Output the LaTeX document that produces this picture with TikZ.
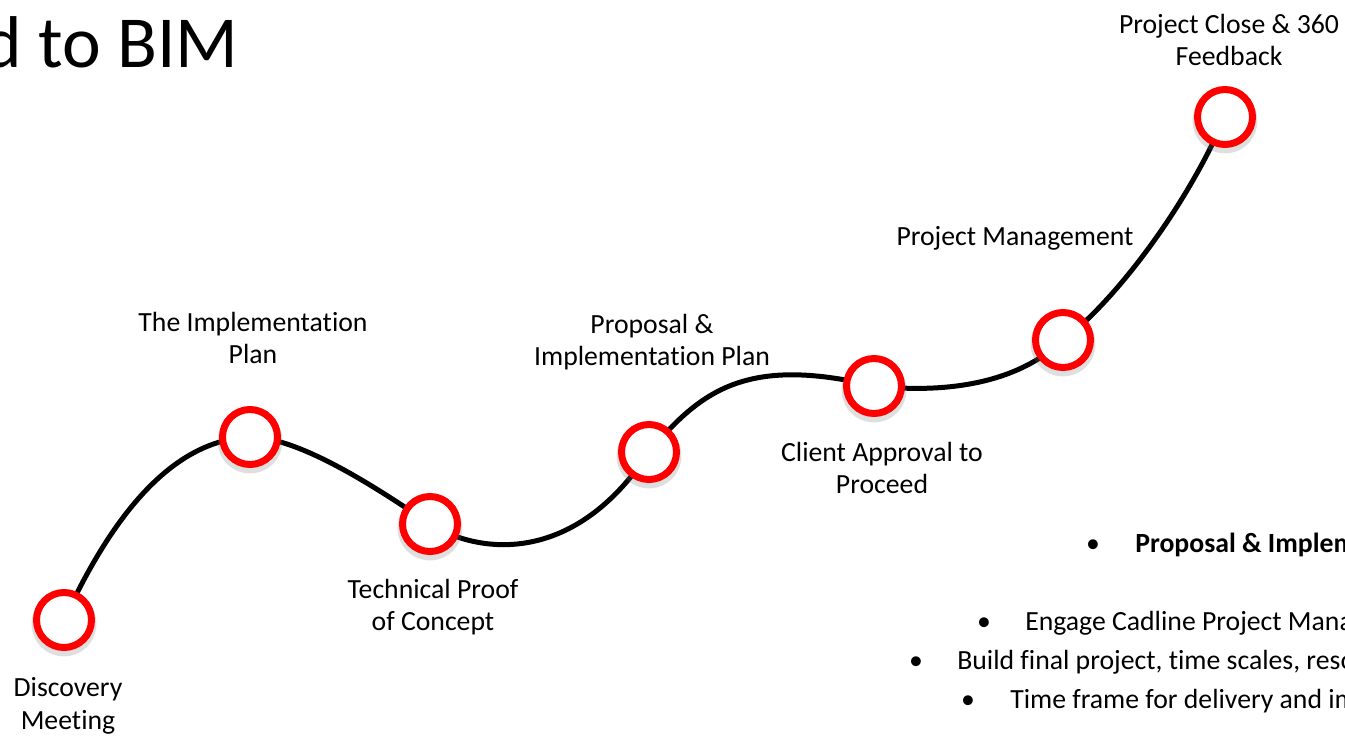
\documentclass[tikz,border=0pt]{standalone}
\usepackage{fontspec}
\setmainfont{Carlito}[Ligatures={NoCommon}]
\usetikzlibrary{shadows}
\begin{document}
\begin{tikzpicture}[x=0.75pt,y=-0.75pt,
  stage/.style={circle,draw=red,fill=white,line width=5.25pt,minimum size=41.25pt,inner sep=0pt,
    drop shadow={opacity=0.25,shadow xshift=0pt,shadow yshift=-2.5pt,shadow scale=1.18}},
  path/.style={draw=black,line width=3.75pt},
  lbl/.style={font=\fontsize{20.8}{24.5}\selectfont,align=center,inner sep=0pt,text=black},
  btxt/.style={font=\fontsize{20.8}{24.5}\selectfont,anchor=base west,inner sep=0pt},
  bdot/.style={font=\fontsize{20.8}{24.5}\selectfont,anchor=base,inner sep=0pt}]
\useasboundingbox (0,0) rectangle (1345,736);
\clip (0,0) rectangle (1345,736);
% title
\node[font=\fontsize{55}{62}\selectfont,anchor=base east,inner sep=0pt] (title) at (239,67) {Road to BIM};
% stage positions
\coordinate (c1) at (64,620);
\coordinate (c2) at (250,437);
\coordinate (c3) at (430,524);
\coordinate (c4) at (649,452);
\coordinate (c5) at (874,386);
\coordinate (c6) at (1063,340);
\coordinate (c7) at (1225,117);
% curve
\draw[path] (c1) .. controls (110,520) and (170,440) .. (c2)
  .. controls (300,437) and (380,490) .. (c3)
  .. controls (480,555) and (575,565) .. (c4)
  .. controls (700,392) and (745,355) .. (c5)
  .. controls (930,392) and (1010,390) .. (c6)
  .. controls (1105,310) and (1180,220) .. (c7);
% circles
\node[stage] (s1) at (c1) {};
\node[stage] (s2) at (c2) {};
\node[stage] (s3) at (c3) {};
\node[stage] (s4) at (c4) {};
\node[stage] (s5) at (c5) {};
\node[stage] (s6) at (c6) {};
\node[stage] (s7) at (c7) {};
% labels
\node[lbl] (l1) at (68,706) {Discovery\\Meeting};
\node[lbl] (l2) at (253,338) {The Implementation\\Plan};
\node[lbl] (l3) at (433,607) {Technical Proof\\of Concept};
\node[lbl] (l4) at (652,342) {Proposal \&\\Implementation Plan};
\node[lbl] (l5) at (882,468) {Client Approval to\\Proceed};
\node[lbl] (l6) at (1015,238) {Project Management};
\node[lbl] (l7) at (1229,40) {Project Close \& 360\\Feedback};
% bullets
\node[bdot] (d1) at (1093,552) {•};
\node[btxt,font=\fontsize{20.8}{24.5}\selectfont\bfseries] (b1) at (1135,552) {Proposal \& Implementation Plan};
\node[bdot] (d2) at (984,630) {•};
\node[btxt] (b2) at (1025,630) {Engage Cadline Project Manager};
\node[bdot] (d3) at (916,669) {•};
\node[btxt] (b3) at (957,669) {Build final project, time scales, resources};
\node[bdot] (d4) at (968,708) {•};
\node[btxt] (b4) at (1010,708) {Time frame for delivery and implementation};
\end{tikzpicture}
\end{document}
